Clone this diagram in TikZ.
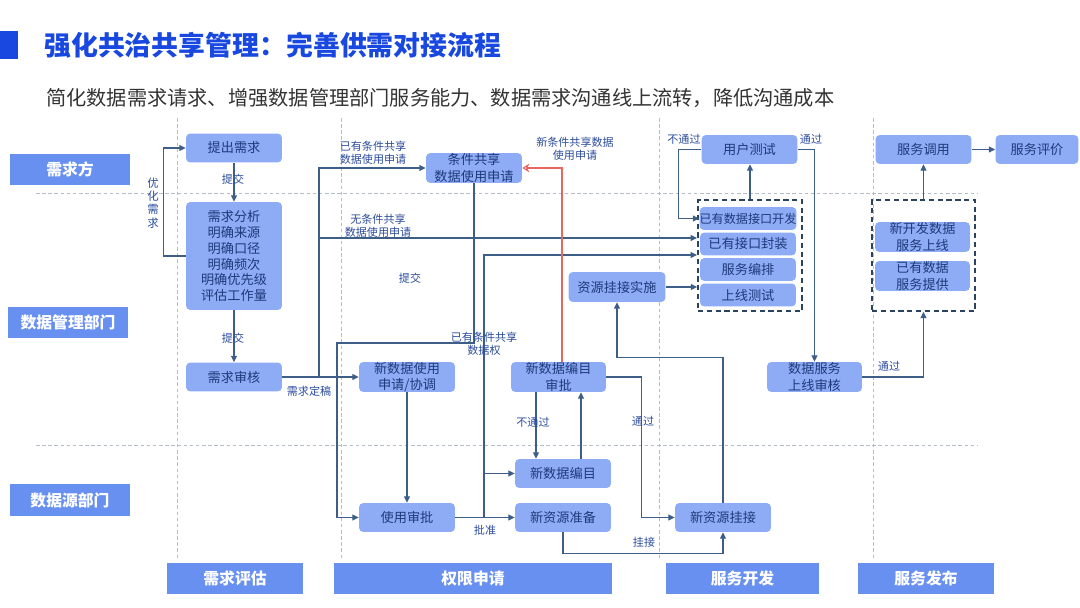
\documentclass[tikz,border=0pt]{standalone}
\usepackage{fontspec}
\setmainfont{Noto Sans CJK SC}
\usetikzlibrary{arrows.meta}
\definecolor{nodefill}{HTML}{8EABF5}
\definecolor{nodetext}{HTML}{1E3A7B}
\definecolor{lanefill}{HTML}{6890F0}
\definecolor{linec}{HTML}{3D5F87}
\definecolor{lblc}{HTML}{2B4C9B}
\definecolor{titleblue}{HTML}{1848E0}
\definecolor{sepc}{HTML}{B5BDCB}
\definecolor{redline}{HTML}{E8665E}
\definecolor{subc}{HTML}{333333}
\begin{document}
\begin{tikzpicture}[x=0.02cm,y=-0.02cm,
  nd/.style={rounded corners=2.5pt, fill=nodefill, text=nodetext, font=\fontsize{7.5}{9.3}\selectfont, align=center, inner sep=0pt, minimum width=1.92cm, minimum height=0.58cm},
  nd2/.style={nd, minimum height=0.6cm},
  sm/.style={nd, minimum height=0.46cm},
  lane/.style={fill=lanefill, text=white, font=\bfseries\fontsize{9}{10}\selectfont, minimum width=2.4cm, minimum height=0.64cm, inner sep=0pt},
  phase/.style={lane, minimum height=0.62cm},
  lbl/.style={text=lblc, font=\fontsize{6.3}{7.4}\selectfont, align=center, inner sep=0pt},
  line/.style={draw=linec, line width=0.6pt},
  arr/.style={line, -{Triangle[length=3.6pt,width=3.4pt]}},
  arrred/.style={draw=redline, line width=0.6pt, -{Stealth[length=4pt,width=5pt,open]}},
  sep/.style={draw=sepc, line width=0.5pt, dash pattern=on 2pt off 1.5pt},
  grp/.style={draw=linec!70!black, line width=1pt, dash pattern=on 3pt off 2pt, inner sep=0pt}
]
\useasboundingbox (0,0) rectangle (1080,608);

% title
\fill[titleblue] (0,31) rectangle (18,59);
\node[anchor=west, inner sep=0pt, text=titleblue, font=\bfseries\fontsize{15.3}{17}\selectfont] (title) at (44,45) {强化共治共享管理：完善供需对接流程};
\node[anchor=west, inner sep=0pt, text=subc, font=\fontsize{11.5}{13}\selectfont] (sub) at (46,98) {简化数据需求请求、增强数据管理部门服务能力、数据需求沟通线上流转，降低沟通成本};

% separators
\draw[sep] (36,193) -- (977,193);
\draw[sep] (36,445) -- (977,445);
\foreach \xx in {177,341,659,873} \draw[sep] (\xx,118) -- (\xx,560);

% lanes
\node[lane] (L1) at (70,169.5) {需求方};
\node[lane] (L2) at (68,322.5) {数据管理部门};
\node[lane] (L3) at (70,500) {数据源部门};

% phases
\node[phase, minimum width=2.72cm] (P1) at (235,578.5) {需求评估};
\node[phase, minimum width=5.56cm] (P2) at (473,578.5) {权限申请};
\node[phase, minimum width=3.06cm] (P3) at (742.5,578.5) {服务开发};
\node[phase, minimum width=2.72cm] (P4) at (926,578.5) {服务发布};

% groups
\node[grp, minimum width=2.08cm, minimum height=2.22cm] (g1) at (750,255.5) {};
\node[grp, minimum width=2.06cm, minimum height=2.22cm] (g2) at (923.5,255.5) {};

% nodes
\node[nd] (tc) at (234,148) {提出需求};
\node[nd, minimum height=2.16cm, font=\fontsize{7.5}{9.1}\selectfont] (fx) at (234,256) {需求分析\\明确来源\\明确口径\\明确频次\\明确优先级\\评估工作量};
\node[nd] (sh) at (234,377) {需求审核};
\node[nd2] (tj) at (474,168) {条件共享\\数据使用申请};
\node[nd2, minimum width=1.94cm] (zy) at (617,287) {资源挂接实施};
\node[nd2] (xs) at (407,377) {新数据使用\\申请/协调};
\node[nd2, minimum width=1.9cm] (bs) at (558.5,377) {新数据编目\\审批};
\node[nd] (bm) at (563,473.5) {新数据编目};
\node[nd] (sp) at (407,517.5) {使用审批};
\node[nd] (zb) at (563,517.5) {新资源准备};
\node[nd] (gj) at (723,517.5) {新资源挂接};
\node[nd] (cs) at (749.5,149.5) {用户测试};
\node[sm, font=\fontsize{6.9}{8}\selectfont] (k1) at (748,218.5) {已有数据接口开发};
\node[sm] (k2) at (748,244) {已有接口封装};
\node[sm] (k3) at (748,269.5) {服务编排};
\node[sm] (k4) at (748,295) {上线测试};
\node[nd2, minimum width=1.9cm] (ss) at (814.5,377) {数据服务\\上线审核};
\node[nd] (dy) at (923.5,149.5) {服务调用};
\node[nd, minimum width=1.66cm] (pj) at (1037,149.5) {服务评价};
\node[nd2, minimum width=1.9cm] (n1) at (922.5,237) {新开发数据\\服务上线};
\node[nd2, minimum width=1.9cm] (n2) at (922.5,276) {已有数据\\服务提供};

% coordinates
\coordinate (tr) at (319,377);
\coordinate (e1) at (697,238);
\coordinate (e2) at (697,255);
\coordinate (j1) at (484,517.5);

% connectors
\draw[arr] (tc) -- (fx);
\draw[arr] (fx) -- (sh);
\draw[arr] (fx.west) -- ++(-22,0) |- (tc.west);
\draw[arr] (sh.east) -- (xs.west);
\draw[arr] (tr) |- (tj.west);
\draw[arr] (tr) |- (e1);
\draw[arr] (tj.south) |- (337,343) |- (sp.west);
\draw[arr] (xs) -- (sp);
\draw[arr] (sp.east) -- (zb.west);
\draw[arr] (j1) |- (e2);
\draw[arr] (j1 |- bm.west) -- (bm.west);
\draw[arrred] ([xshift=0.07cm]bs.north) |- (tj.east);
\draw[arr] ([xshift=-0.45cm]bs.south) -- ([xshift=-0.45cm]bs.south |- bm.north);
\draw[arr] ([xshift=0.36cm]bm.north) -- ([xshift=0.36cm]bm.north |- bs.south);
\draw[arr] (bs.east) -- ++(35,0) |- (gj.west);
\draw[arr] (zb.south) -- ++(0,21) -| (gj.south);
\draw[arr] (gj.north) -- ++(0,-145) -| (zy.south);
\draw[arr] (zy.east) -- (zy.east -| g1.west);
\draw[arr] (g1.north) -- (g1.north |- cs.south);
\draw[arr] (cs.west) -- ++(-23,0) |- (k1.west);
\draw[arr] (cs.east) -| (ss.north);
\draw[arr] (ss.east) -| (g2.south);
\draw[arr] (g2.north) -- (g2.north |- dy.south);
\draw[arr] (dy) -- (pj);

% labels
\node[lbl] (t1) at (233,179) {提交};
\node[lbl] (t2) at (233,338) {提交};
\node[lbl, font=\fontsize{6.5}{7.6}\selectfont] (t3) at (153,203) {优\\化\\需\\求};
\node[lbl] (t4) at (309,391) {需求定稿};
\node[lbl] (t5) at (373,153) {已有条件共享\\数据使用申请};
\node[lbl] (t6) at (378,225.5) {无条件共享\\数据使用申请};
\node[lbl] (t7) at (410,278) {提交};
\node[lbl] (t8) at (484,343.5) {已有条件共享\\数据权};
\node[lbl] (t9) at (575,149) {新条件共享数据\\使用申请};
\node[lbl] (t10) at (533,422) {不通过};
\node[lbl] (t11) at (643,421) {通过};
\node[lbl] (t12) at (485,530) {批准};
\node[lbl] (t13) at (644,542) {挂接};
\node[lbl] (t14) at (684,139) {不通过};
\node[lbl] (t15) at (811,139) {通过};
\node[lbl] (t16) at (889,366) {通过};
\end{tikzpicture}
\end{document}
